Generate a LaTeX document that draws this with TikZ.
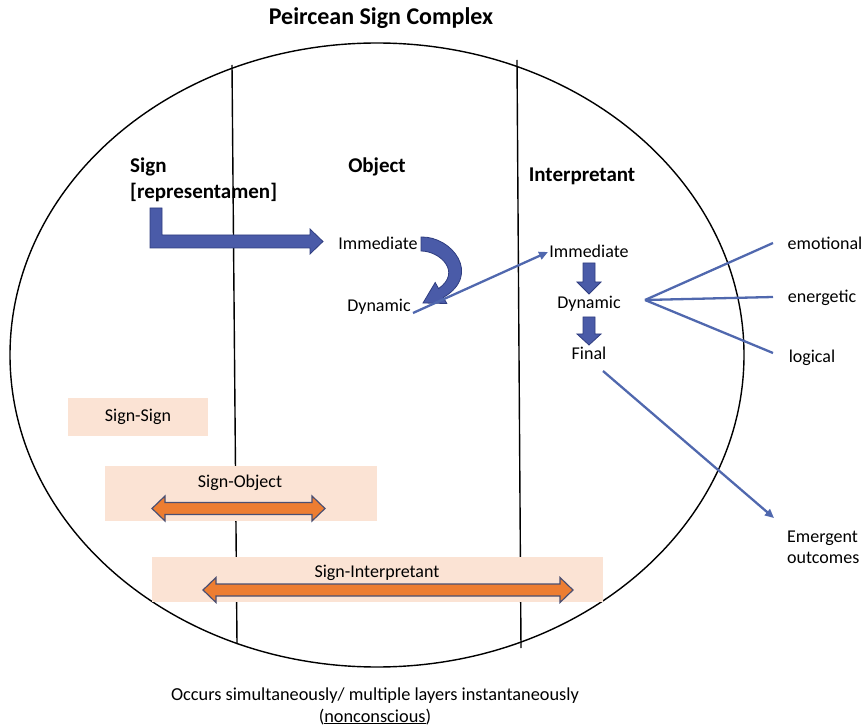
\documentclass[tikz,border=0pt]{standalone}
\usepackage{fontspec}
\setmainfont{Carlito}
\usetikzlibrary{arrows.meta}
\definecolor{blockblue}{HTML}{4A5BA8}
\definecolor{blockedge}{HTML}{2F3D80}
\definecolor{thinblue}{HTML}{5068AE}
\definecolor{peach}{HTML}{FBE3D4}
\definecolor{orangefill}{HTML}{ED7D31}
\definecolor{orangeedge}{HTML}{4A4F72}
\tikzset{
  body/.style={font=\fontsize{18}{21}\selectfont, inner sep=0pt},
  head/.style={font=\fontsize{21}{26}\selectfont\bfseries, inner sep=0pt},
  thin/.style={draw=thinblue, line width=2.3pt},
  thinarrow/.style={thin, -{Triangle[length=9pt,width=8pt]}},
  blockarrow/.style={fill=blockblue, draw=blockedge, line width=0.8pt, line join=miter},
  relbox/.style={fill=peach, draw=none, inner sep=0pt},
  dblarrow/.style={fill=orangefill, draw=orangeedge, line width=1.2pt, line join=miter},
  frame/.style={draw=black, line width=1.4pt}
}
\begin{document}
\begin{tikzpicture}[x=1pt,y=-1pt]
\useasboundingbox (0,0) rectangle (865,727);
% title
\node[font=\fontsize{24}{28}\selectfont\bfseries, inner sep=0pt] (title) at (381,18) {Peircean Sign Complex};
% ellipse and column lines
\draw[frame] (377,355) ellipse [x radius=367, y radius=312];
\coordinate (l1t) at (232,65); \coordinate (l1b) at (237,644);
\coordinate (l2t) at (517,60); \coordinate (l2b) at (521,648);
\draw[frame] (l1t) -- (l1b);
\draw[frame] (l2t) -- (l2b);
% headings
\node[head, align=left, anchor=west] (sign) at (130,180) {Sign\\{}{[representamen]}};
\node[head] (object) at (377,167) {Object};
\node[head] (interp) at (582,176) {Interpretant};
% object column
\node[body] (oimm) at (378,243) {Immediate};
\node[body] (odyn) at (379,307) {Dynamic};
% interpretant column
\node[body] (iimm) at (589,251) {Immediate};
\node[body] (idyn) at (589,304) {Dynamic};
\node[body] (ifin) at (589,353) {Final};
% interpretant types
\node[body] (emo) at (825,243) {emotional};
\node[body] (ene) at (822,298) {energetic};
\node[body] (log) at (812,358) {logical};
\node[body, align=left, anchor=west] (emerg) at (787,547) {Emergent\\outcomes};
% L-shaped block arrow from Sign to Object
\draw[blockarrow] (150,208) -- (162,208) -- (162,235) -- (310,235) -- (310,229)
  -- (323,241.5) -- (310,254) -- (310,248) -- (150,248) -- cycle;
% curved block arrow Immediate -> Dynamic
\draw[blockarrow] (421,237) .. controls (452,236) and (482,275) .. (443.4,297.4)
  -- (446.8,303.5) -- (423,303) -- (435.2,282.5) -- (438.6,288.6)
  .. controls (462,272) and (440,251) .. (421,251) -- cycle;
% down block arrows in interpretant column
\draw[blockarrow] (583,263) -- (595,263) -- (595,282) -- (601,282) -- (589,294)
  -- (577,282) -- (583,282) -- cycle;
\draw[blockarrow] (583,317) -- (595,317) -- (595,334) -- (601,334) -- (589,345)
  -- (577,334) -- (583,334) -- cycle;
% thin connectors
\coordinate (dynstart) at (413,313);
\coordinate (immend) at (548,252);
\draw[thinarrow] (dynstart) -- (immend);
\coordinate (fan) at (645,300);
\coordinate (emoend) at (773,243);
\coordinate (eneend) at (773,297);
\coordinate (logend) at (773,353);
\draw[thin] (fan) -- (emoend);
\draw[thin] (fan) -- (eneend);
\draw[thin] (fan) -- (logend);
\coordinate (finstart) at (603,371);
\coordinate (emergend) at (774,518);
\draw[thinarrow] (finstart) -- (emergend);
% relation boxes
\node[relbox, minimum width=140pt, minimum height=38pt] (ssbox) at (138,417) {};
\node[body] (sslab) at (ssbox.center) {Sign-Sign};
\node[relbox, minimum width=272pt, minimum height=55pt] (sobox) at (241,493.5) {};
\node[body] (solab) at (240,483) {Sign-Object};
\node[relbox, minimum width=451pt, minimum height=45pt] (sibox) at (377.5,579.5) {};
\node[body] (silab) at (377,573) {Sign-Interpretant};
% orange double arrows
\draw[dblarrow] (152,508.5) -- (165,496) -- (165,502.5) -- (312,502.5) -- (312,496)
  -- (325,508.5) -- (312,521) -- (312,514.5) -- (165,514.5) -- (165,521) -- cycle;
\draw[dblarrow] (203,590) -- (216,577.5) -- (216,584) -- (560,584) -- (560,577.5)
  -- (573,590) -- (560,602.5) -- (560,596) -- (216,596) -- (216,602.5) -- cycle;
% footer
\node[font=\fontsize{18.3}{22}\selectfont, inner sep=0pt, align=center] (foot) at (375,706) {Occurs simultaneously/ multiple layers instantaneously\\(\underline{nonconscious})};
\end{tikzpicture}
\end{document}
